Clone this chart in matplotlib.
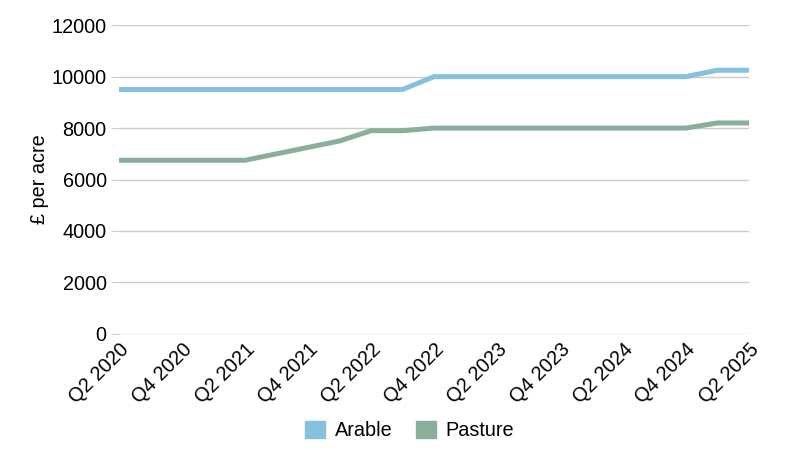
import matplotlib
matplotlib.use("Agg")
import matplotlib.pyplot as plt
from matplotlib.patches import Patch

# quarterly land values, Q2 2020 .. Q2 2025
quarters = ["Q2 2020", "Q3 2020", "Q4 2020", "Q1 2021", "Q2 2021", "Q3 2021", "Q4 2021",
            "Q1 2022", "Q2 2022", "Q3 2022", "Q4 2022", "Q1 2023", "Q2 2023", "Q3 2023",
            "Q4 2023", "Q1 2024", "Q2 2024", "Q3 2024", "Q4 2024", "Q1 2025", "Q2 2025"]
arable = [9500, 9500, 9500, 9500, 9500, 9500, 9500, 9500, 9500, 9500,
          10000, 10000, 10000, 10000, 10000, 10000, 10000, 10000, 10000, 10250, 10250]
pasture = [6750, 6750, 6750, 6750, 6750, 7000, 7250, 7500, 7900, 7900,
           8000, 8000, 8000, 8000, 8000, 8000, 8000, 8000, 8000, 8200, 8200]

arable_col = "#86c1de"
pasture_col = "#8bae9b"

plt.rcParams["font.family"] = ["Liberation Sans", "DejaVu Sans"]
plt.rcParams["font.size"] = 14.3

fig = plt.figure(figsize=(8, 4.5), dpi=100)
ax = fig.add_axes([0.149, 0.258, 0.787, 0.686])

x = list(range(len(quarters)))
ax.plot(x, arable, color=arable_col, lw=3.6, solid_joinstyle="miter")
ax.plot(x, pasture, color=pasture_col, lw=3.6, solid_joinstyle="miter")

ax.set_xlim(0, len(quarters) - 1)
ax.set_ylim(0, 12000)
ax.set_yticks(range(0, 12001, 2000))
ax.set_xticks(x[::2])
ax.set_xticklabels(quarters[::2], rotation=45, ha="right", rotation_mode="anchor")

ax.grid(axis="y", color="#cccccc", lw=1)
ax.set_axisbelow(True)
for s in ax.spines.values():
    s.set_visible(False)
ax.tick_params(axis="y", length=6, color="#cccccc", pad=3)
ax.tick_params(axis="x", length=0, pad=4)

ax.set_ylabel("£ per acre", labelpad=2)

handles = [Patch(color=arable_col, label="Arable"), Patch(color=pasture_col, label="Pasture")]
fig.legend(handles=handles, loc="lower center", bbox_to_anchor=(0.512, -0.018), ncol=2,
           frameon=False, handlelength=1.0, handleheight=1.0, handletextpad=0.5,
           columnspacing=1.2)

fig.savefig("out.png", dpi=100)
